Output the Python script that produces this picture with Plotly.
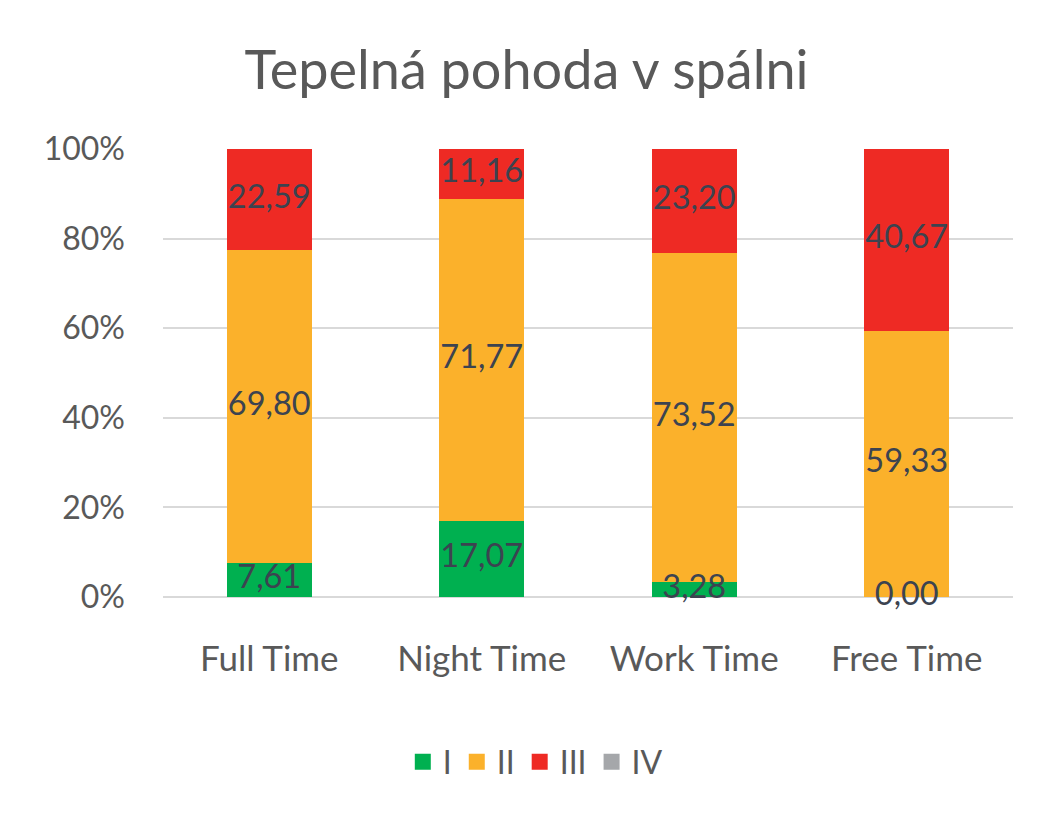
import plotly.graph_objects as go

categories = ["Full Time", "Night Time", "Work Time", "Free Time"]
series_names = ["I", "II", "III", "IV"]
values_I = [7.61, 17.07, 3.28, 0.00]
values_II = [69.80, 71.77, 73.52, 59.33]
values_III = [22.59, 11.16, 23.20, 40.67]
values_IV = [0.0, 0.0, 0.0, 0.0]
tick_vals = [0, 20, 40, 60, 80, 100]
tick_labels = ["0%", "20%", "40%", "60%", "80%", "100%"]

colors = ["#00B050", "#FBB12B", "#EE2A24", "#A5A7AA"]
label_color = "#3C4350"
font_family = "Lato, 'Open Sans', sans-serif"

fig = go.Figure()
all_series = [values_I, values_II, values_III, values_IV]
for name, vals, col in zip(series_names, all_series, colors):
    fig.add_trace(go.Bar(x=categories, y=vals, name=name, marker_color=col,
                         marker_line_width=0, hoverinfo="skip", showlegend=False,
                         legendgroup=name))

# labels centred in each visible segment
lx, ly, lt = [], [], []
base = [0.0] * len(categories)
for vals in all_series[:3]:
    for i, v in enumerate(vals):
        lx.append(categories[i])
        ly.append(base[i] + v / 2)
        lt.append(f"{v:.2f}".replace(".", ","))
        base[i] += v
fig.add_trace(go.Scatter(x=lx, y=ly, text=lt, mode="text", showlegend=False,
                         textfont=dict(size=32.5, color=label_color, family=font_family),
                         textposition="middle center", hoverinfo="skip", cliponaxis=False))

# legend entries with square symbols
for name, col in zip(series_names, colors):
    fig.add_trace(go.Scatter(x=[None], y=[None], mode="markers", name=name,
                             legendgroup=name,
                             marker=dict(symbol="square", size=20, color=col)))

fig.update_layout(
    barmode="stack",
    bargap=0.6,
    width=1053, height=813,
    margin=dict(l=155, r=48, t=141, b=224),
    paper_bgcolor="white", plot_bgcolor="white",
    title=dict(text="Tepelná pohoda v spálni", x=0.4924, xanchor="center", y=0.924, yanchor="middle",
               font=dict(size=54, color="#595959", family=font_family)),
    font=dict(family=font_family, color="#595959"),
    legend=dict(orientation="h", x=0.438, xanchor="center", y=-0.368, yanchor="middle",
                font=dict(size=32, color="#595959"), itemwidth=30, traceorder="normal"),
    xaxis=dict(tickfont=dict(size=35, color="#595959"), showgrid=False, showline=False,
               ticks="", ticklabelstandoff=38),
    yaxis=dict(range=[0, 100], tickvals=tick_vals, ticktext=tick_labels,
               tickfont=dict(size=32, color="#595959"), showgrid=True, gridcolor="#D9D9D9",
               gridwidth=2, zeroline=True, zerolinecolor="#D9D9D9", zerolinewidth=2,
               ticklabelstandoff=37, ticks=""),
)

fig.write_html("out.html")
